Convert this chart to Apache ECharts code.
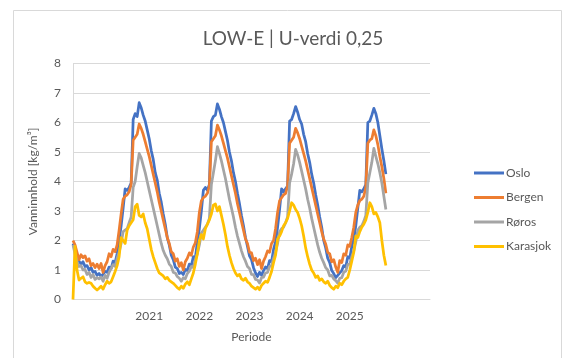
<!DOCTYPE html>
<html>
<head>
<meta charset="utf-8">
<script src="https://cdn.jsdelivr.net/npm/echarts@6/dist/echarts.min.js"></script>
<style>
  html, body { margin: 0; padding: 0; background: #ffffff; }
  #chart { width: 569px; height: 358px; }
</style>
</head>
<body>
<div id="chart"></div>
<script>
// Water content [kg/m³] sampled at even steps over the simulated period
const seriesNames = ['Oslo', 'Bergen', 'Røros', 'Karasjok'];
const periodLabels = ['2021', '2022', '2023', '2024', '2025'];

const oslo = [
  1.90,1.70,1.45,1.30,1.20,1.28,1.12,1.15,1.00,1.08,0.92,0.95,0.82,
  0.88,0.78,0.86,0.95,0.92,1.10,1.05,1.30,1.25,1.55,2.00,2.50,3.10,3.75,3.70,3.80,3.95,6.10,6.30,6.20,
  6.67,6.50,6.25,6.05,5.75,5.45,5.05,4.75,4.30,4.05,3.60,3.30,2.90,2.55,2.10,1.85,1.50,1.35,1.10,
  1.05,0.88,0.92,0.85,1.02,0.98,1.20,1.15,1.45,1.40,1.95,2.40,3.00,3.70,3.80,3.70,3.90,6.05,6.20,6.25,
  6.63,6.45,6.20,6.00,5.70,5.40,5.00,4.70,4.30,4.00,3.60,3.25,2.85,2.50,2.10,1.80,1.48,1.35,1.08,
  0.90,0.78,0.92,0.82,0.98,1.10,1.05,1.32,1.28,1.70,1.95,2.45,3.05,3.75,3.65,3.75,3.85,6.05,6.10,6.30,
  6.54,6.35,6.10,5.95,5.60,5.35,4.95,4.65,4.25,3.95,3.55,3.20,2.80,2.45,2.00,1.75,1.40,1.25,0.98,
  0.88,0.74,0.82,0.90,0.98,1.15,1.10,1.45,1.40,1.80,2.05,2.50,3.10,3.70,3.65,3.75,3.90,6.00,6.05,6.25,
  6.48,6.30,6.00,5.55,5.10,4.70,4.25
];

const bergen = [
  2.00,1.85,1.60,1.35,1.52,1.42,1.48,1.30,1.38,1.15,1.22,1.08,1.20,
  1.05,1.22,0.92,1.15,1.28,1.55,1.45,1.70,1.62,1.85,2.35,2.90,3.40,3.50,3.55,3.65,3.90,5.40,5.50,5.60,
  5.95,5.80,5.60,5.35,5.10,4.85,4.55,4.25,3.95,3.65,3.30,3.00,2.70,2.40,2.10,1.90,1.62,1.55,1.30,
  1.38,1.12,1.25,1.00,1.28,1.40,1.58,1.50,1.78,1.92,2.30,2.95,3.35,3.45,3.50,3.60,3.85,5.35,5.45,5.55,
  5.91,5.75,5.55,5.30,5.05,4.80,4.50,4.20,3.90,3.60,3.25,2.95,2.65,2.35,2.05,1.90,1.60,1.58,1.32,
  1.40,1.18,1.35,1.05,1.30,1.45,1.65,1.60,1.90,2.00,2.40,2.95,3.35,3.45,3.55,3.60,3.85,5.30,5.40,5.50,
  5.80,5.65,5.45,5.20,4.95,4.70,4.40,4.10,3.80,3.50,3.20,2.90,2.60,2.30,2.05,1.88,1.60,1.55,1.28,
  1.35,1.10,0.92,1.32,1.25,1.55,1.50,1.85,1.80,2.10,2.45,2.95,3.20,3.35,3.40,3.50,3.80,5.30,5.40,5.45,
  5.75,5.55,5.25,4.85,4.50,4.10,3.60
];

const roros = [
  1.85,1.55,1.28,1.12,1.15,1.00,1.02,0.85,0.92,0.75,0.85,0.68,0.74,
  0.70,0.76,0.62,0.82,0.72,0.92,1.05,1.18,1.12,1.40,1.60,1.90,2.30,2.35,2.40,2.60,2.80,3.80,4.00,4.50,
  4.95,4.80,4.55,4.30,4.00,3.70,3.40,3.10,2.80,2.50,2.20,1.90,1.66,1.50,1.38,1.20,1.12,0.92,0.90,
  0.78,0.72,0.62,0.74,0.70,0.88,0.96,1.12,1.08,1.35,1.55,1.85,2.25,2.35,2.45,2.55,2.75,3.90,4.30,4.70,
  5.18,4.95,4.70,4.40,4.10,3.75,3.40,3.10,2.80,2.45,2.15,1.90,1.65,1.45,1.30,1.12,1.05,0.85,0.84,
  0.68,0.66,0.56,0.74,0.76,0.90,0.92,1.12,1.15,1.40,1.60,1.90,2.30,2.40,2.45,2.60,2.80,3.95,4.25,4.60,
  5.09,4.90,4.65,4.35,4.05,3.75,3.40,3.10,2.75,2.45,2.15,1.85,1.60,1.40,1.25,1.08,1.00,0.80,0.82,
  0.70,0.64,0.55,0.72,0.74,0.92,0.96,1.18,1.20,1.45,1.65,1.95,2.35,2.45,2.50,2.65,2.85,3.95,4.30,4.65,
  5.12,4.85,4.60,4.30,3.95,3.50,3.05
];

const karasjok = [
  0.00,1.80,1.00,0.66,0.72,0.77,0.60,0.55,0.58,0.55,0.45,0.38,0.32,
  0.38,0.45,0.35,0.50,0.62,0.55,0.60,0.77,0.95,1.15,1.45,2.10,2.00,1.90,2.35,2.50,2.60,2.70,3.15,3.23,
  2.85,2.80,2.90,2.60,2.40,2.05,1.70,1.45,1.25,1.05,0.90,0.85,0.80,0.70,0.75,0.65,0.60,0.55,0.48,
  0.40,0.35,0.45,0.38,0.52,0.60,0.50,0.70,0.90,1.20,1.55,2.00,2.20,2.05,2.40,2.55,2.70,2.90,3.20,3.24,
  3.00,3.15,2.85,2.55,2.20,1.80,1.50,1.25,1.05,0.90,0.80,0.85,0.70,0.65,0.72,0.60,0.55,0.45,0.40,
  0.35,0.42,0.33,0.48,0.55,0.62,0.58,0.75,0.95,1.25,1.50,2.05,2.15,2.30,2.50,2.60,2.75,3.00,3.28,3.20,
  3.05,2.95,2.75,2.50,2.15,1.75,1.45,1.20,1.00,0.90,0.75,0.80,0.65,0.70,0.60,0.55,0.62,0.48,0.40,
  0.35,0.45,0.40,0.55,0.50,0.62,0.70,0.75,1.00,1.30,1.60,2.15,2.10,2.30,2.45,2.55,2.70,2.95,3.28,3.15,
  2.90,2.95,2.80,2.60,2.00,1.50,1.15
];

const seriesValues = [oslo, bergen, roros, karasjok];
const seriesColors = ['#4472C4', '#ED7D31', '#A5A5A5', '#FFC000'];

// Time axis: sample slots, with a period label every LABEL_EVERY slots
const SLOT_COUNT = 179;
const FIRST_LABEL = 38;
const LABEL_EVERY = 25;
const categories = Array.from({ length: SLOT_COUNT }, (_, i) => {
  const k = (i - FIRST_LABEL) / LABEL_EVERY;
  return (i >= FIRST_LABEL && Number.isInteger(k) && k < periodLabels.length) ? periodLabels[k] : '';
});

const FONT = 'Lato, "Open Sans", sans-serif';
const TEXT = '#595959';

const chart = echarts.init(document.getElementById('chart'), null, { renderer: 'canvas' });
chart.setOption({
  animation: false,
  backgroundColor: '#ffffff',
  graphic: [{
    type: 'rect',
    shape: { x: 13.5, y: 10.5, width: 548, height: 360 },
    style: { fill: 'none', stroke: '#d9d9d9', lineWidth: 1 },
    silent: true
  }],
  title: {
    text: 'LOW-E | U-verdi 0,25',
    left: 288,
    top: 24,
    textAlign: 'center',
    textStyle: { fontFamily: FONT, fontSize: 19, fontWeight: 'normal', color: TEXT }
  },
  legend: {
    orient: 'vertical',
    left: 469,
    top: 161,
    itemWidth: 30,
    itemHeight: 3,
    itemGap: 10.5,
    icon: 'rect',
    textStyle: { fontFamily: FONT, fontSize: 12, color: TEXT, padding: [0, 0, 0, -3], lineHeight: 14 },
    data: seriesNames
  },
  grid: { left: 73, top: 63.5, right: 139, bottom: 58.5, containLabel: false },
  xAxis: {
    type: 'category',
    data: categories,
    boundaryGap: false,
    name: 'Periode',
    nameLocation: 'middle',
    nameGap: 32,
    nameTextStyle: { fontFamily: FONT, fontSize: 12, color: TEXT },
    axisLine: { show: true, lineStyle: { color: '#d9d9d9', width: 1 } },
    axisTick: { show: false },
    splitLine: { show: false },
    axisLabel: {
      interval: (index, value) => value !== '',
      margin: 11,
      fontFamily: FONT, fontSize: 12, color: TEXT
    }
  },
  yAxis: {
    type: 'value',
    min: 0,
    max: 8,
    interval: 1,
    name: 'Vanninnhold [kg/m³]',
    nameLocation: 'middle',
    nameGap: 34,
    nameTextStyle: { fontFamily: FONT, fontSize: 12, color: TEXT },
    axisLine: { show: true, lineStyle: { color: '#d9d9d9', width: 1 } },
    axisTick: { show: false },
    splitLine: { show: true, lineStyle: { color: '#d9d9d9', width: 1 } },
    axisLabel: { margin: 12, fontFamily: FONT, fontSize: 12, color: TEXT }
  },
  series: seriesNames.map((name, s) => ({
    name,
    type: 'line',
    data: seriesValues[s],
    symbol: 'none',
    smooth: false,
    color: seriesColors[s],
    lineStyle: { color: seriesColors[s], width: 2.75, join: 'round' },
    emphasis: { disabled: true }
  }))
});
</script>
</body>
</html>
